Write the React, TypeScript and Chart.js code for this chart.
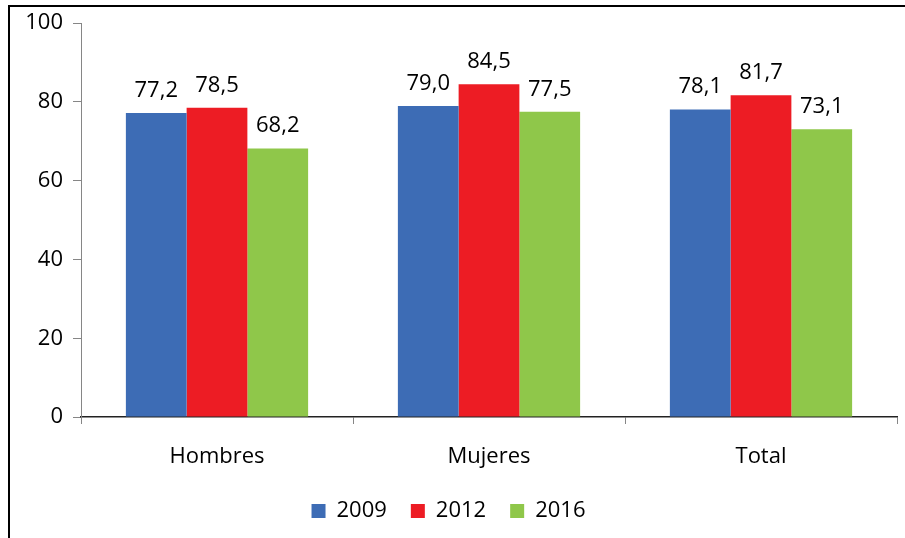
import React, { useEffect, useRef } from "react";
import { Chart, registerables } from "chart.js";

Chart.register(...registerables);

const categories = ["Hombres", "Mujeres", "Total"];
const seriesNames = ["2009", "2012", "2016"];
const values2009 = [77.2, 79.0, 78.1];
const values2012 = [78.5, 84.5, 81.7];
const values2016 = [68.2, 77.5, 73.1];
const colors = ["#3D6CB5", "#ED1C24", "#8FC74A"];

const FONT = "'Open Sans', 'Liberation Sans', sans-serif";
const FS = 22;

const frame = {
  id: "frame",
  beforeDraw(chart: any) {
    const ctx = chart.ctx;
    ctx.save();
    ctx.fillStyle = "#fff";
    ctx.fillRect(0, 0, chart.width, chart.height);
    ctx.strokeStyle = "#000";
    ctx.lineWidth = 2;
    ctx.beginPath();
    ctx.moveTo(9, chart.height);
    ctx.lineTo(9, 6);
    ctx.lineTo(chart.width, 6);
    ctx.stroke();
    ctx.restore();
  },
};

const labelsPlugin = {
  id: "valueLabels",
  afterDatasetsDraw(chart: any) {
    const ctx = chart.ctx;
    ctx.save();
    ctx.font = `${FS}px ${FONT}`;
    ctx.fillStyle = "#000";
    ctx.textAlign = "center";
    ctx.textBaseline = "alphabetic";
    chart.data.datasets.forEach((ds: any, i: number) => {
      const meta = chart.getDatasetMeta(i);
      meta.data.forEach((el: any, j: number) => {
        const v = ds.data[j] as number;
        ctx.fillText(v.toFixed(1).replace(".", ","), el.x, el.y - 16);
      });
    });
    ctx.restore();
  },
};

export default function App() {
  const ref = useRef<HTMLCanvasElement>(null);
  useEffect(() => {
    document.body.style.margin = "0";
    const chart = new Chart(ref.current!, {
      type: "bar",
      data: {
        labels: categories,
        datasets: [values2009, values2012, values2016].map((d, i) => ({
          label: seriesNames[i],
          data: d,
          backgroundColor: colors[i],
          borderWidth: 0,
          categoryPercentage: 0.67,
          barPercentage: 1,
        })),
      },
      options: {
        animation: false,
        responsive: false,
        layout: { padding: { left: 0, right: 8, top: 16, bottom: 6 } },
        plugins: {
          tooltip: { enabled: false },
          legend: {
            position: "bottom",
            labels: {
              boxWidth: 14,
              boxHeight: 14,
              padding: 24,
              color: "#000",
              font: { family: FONT, size: FS },
            },
          },
        },
        scales: {
          x: {
            grid: {
              display: true,
              drawOnChartArea: false,
              drawTicks: true,
              tickLength: 7,
              color: "#868686",
              offset: true,
            },
            border: { color: "#222", width: 1.5 },
            ticks: { color: "#000", padding: 20, font: { family: FONT, size: FS } },
            afterFit(s: any) {
              s.height = 59;
            },
          },
          y: {
            min: 0,
            max: 100,
            ticks: { stepSize: 20, color: "#000", padding: 10, font: { family: FONT, size: FS } },
            grid: {
              display: true,
              drawOnChartArea: false,
              drawTicks: true,
              tickLength: 8,
              color: "#868686",
            },
            border: { color: "#868686", width: 1 },
            afterFit(s: any) {
              s.width = 81;
            },
          },
        },
      },
      plugins: [frame, labelsPlugin],
    });
    return () => chart.destroy();
  }, []);
  return <canvas ref={ref} width={905} height={538} style={{ display: "block" }} />;
}
